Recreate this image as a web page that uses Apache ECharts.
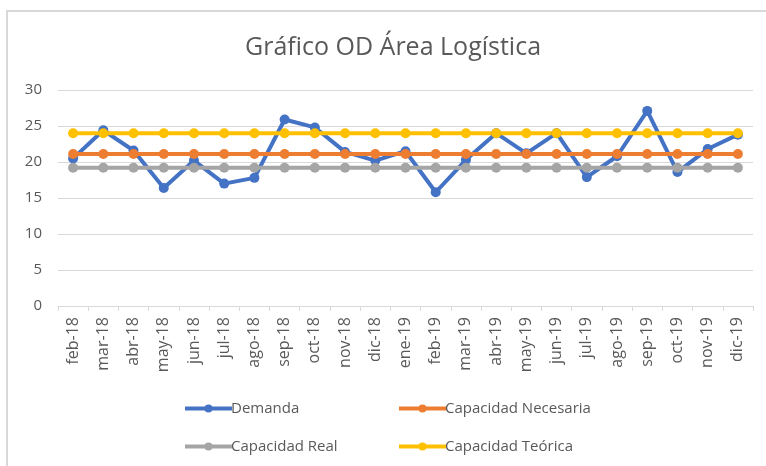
<!DOCTYPE html>
<html lang="es">
<head>
    <meta charset="UTF-8">
    <title>Gráfico OD Área Logística</title>
    <script src="https://cdn.jsdelivr.net/npm/echarts@6/dist/echarts.min.js"></script>
    <style>
        html, body { margin: 0; padding: 0; background: #fff; }
    </style>
</head>
<body>
<div id="grafico" style="width: 766px;height:466px;"></div>
<script type="text/javascript">
    // meses (eje X)
    var meses = ['feb-18', 'mar-18', 'abr-18', 'may-18', 'jun-18', 'jul-18', 'ago-18', 'sep-18', 'oct-18',
        'nov-18', 'dic-18', 'ene-19', 'feb-19', 'mar-19', 'abr-19', 'may-19', 'jun-19', 'jul-19', 'ago-19',
        'sep-19', 'oct-19', 'nov-19', 'dic-19'];

    var demanda = [20.5, 24.4, 21.6, 16.4, 20.2, 17.0, 17.8, 25.9, 24.8, 21.4, 20.2, 21.5,
        15.8, 20.3, 24.0, 21.2, 24.0, 17.9, 20.8, 27.1, 18.6, 21.8, 23.8];
    var capNecesaria = [21.1, 21.1, 21.1, 21.1, 21.1, 21.1, 21.1, 21.1, 21.1, 21.1, 21.1, 21.1,
        21.1, 21.1, 21.1, 21.1, 21.1, 21.1, 21.1, 21.1, 21.1, 21.1, 21.1];
    var capReal = [19.2, 19.2, 19.2, 19.2, 19.2, 19.2, 19.2, 19.2, 19.2, 19.2, 19.2, 19.2,
        19.2, 19.2, 19.2, 19.2, 19.2, 19.2, 19.2, 19.2, 19.2, 19.2, 19.2];
    var capTeorica = [24, 24, 24, 24, 24, 24, 24, 24, 24, 24, 24, 24,
        24, 24, 24, 24, 24, 24, 24, 24, 24, 24, 24];

    var txt = '#595959';
    var fuente = '"Open Sans", "Noto Sans", sans-serif';

    function serie(nombre, datos, color) {
        return {
            name: nombre,
            type: 'line',
            data: datos,
            symbol: 'circle',
            symbolSize: 10,
            color: color,
            lineStyle: { width: 4, color: color },
            itemStyle: { color: color },
            animation: false
        };
    }

    // leyenda en dos columnas
    function leyenda(izq, nombres) {
        return {
            orient: 'vertical',
            left: izq,
            top: 401,
            padding: 0,
            itemWidth: 47,
            itemHeight: 10,
            itemGap: 23,
            data: nombres,
            lineStyle: { width: 4 },
            textStyle: { color: txt, fontSize: 15, fontFamily: fuente, padding: [0, 0, 0, -6] }
        };
    }

    var myChart = echarts.init(document.getElementById('grafico'));
    var option = {
        backgroundColor: '#fff',
        textStyle: { fontFamily: fuente },
        title: {
            text: 'Gráfico OD Área Logística',
            left: 240,
            top: 30,
            textStyle: { color: txt, fontSize: 25, fontWeight: 'normal', fontFamily: fuente }
        },
        legend: [
            leyenda(183, ['Demanda', 'Capacidad Real']),
            leyenda(397, ['Capacidad Necesaria', 'Capacidad Teórica'])
        ],
        grid: {
            left: 58,
            right: 13,
            top: 90,
            bottom: 160
        },
        xAxis: {
            type: 'category',
            data: meses,
            boundaryGap: true,
            axisLine: { lineStyle: { color: '#d9d9d9', width: 1 } },
            axisTick: { show: true, length: 5, lineStyle: { color: '#d9d9d9' } },
            axisLabel: { color: txt, fontSize: 16, rotate: 90, margin: 11, interval: 0, fontFamily: fuente }
        },
        yAxis: {
            type: 'value',
            min: 0,
            max: 30,
            interval: 5,
            axisLine: { show: false },
            axisTick: { show: false },
            axisLabel: { color: txt, fontSize: 15, margin: 16, fontFamily: fuente },
            splitLine: { lineStyle: { color: '#d9d9d9', width: 1 } }
        },
        graphic: [{
            type: 'line',
            shape: { x1: 7, y1: 11, x2: 7, y2: 466 },
            style: { stroke: '#d9d9d9', lineWidth: 2 }
        }, {
            type: 'line',
            shape: { x1: 6, y1: 11, x2: 766, y2: 11 },
            style: { stroke: '#d9d9d9', lineWidth: 2 }
        }],
        series: [
            serie('Demanda', demanda, '#4472C4'),
            serie('Capacidad Necesaria', capNecesaria, '#ED7D31'),
            serie('Capacidad Real', capReal, '#A5A5A5'),
            serie('Capacidad Teórica', capTeorica, '#FFC000')
        ]
    };
    myChart.setOption(option);
</script>
</body>
</html>
